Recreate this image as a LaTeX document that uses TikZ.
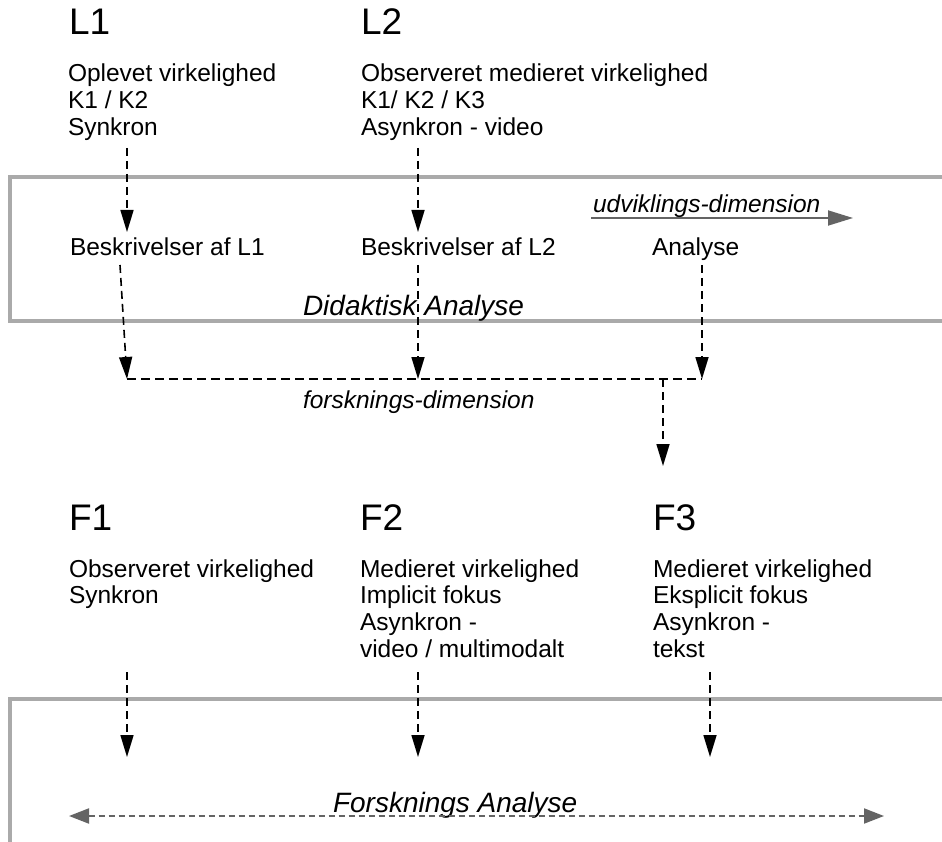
\documentclass[tikz,border=0pt]{standalone}
\usepackage{fontspec}
\setmainfont{Liberation Sans}
\usetikzlibrary{arrows.meta}
\definecolor{boxgray}{RGB}{170,170,170}
\definecolor{arrgray}{RGB}{100,100,100}
\begin{document}
\begin{tikzpicture}[x=1pt,y=-1pt,
  txt/.style={anchor=base west,inner sep=0pt,outer sep=0pt,align=left,font=\fontsize{24.5}{26.7}\selectfont},
  big/.style={anchor=base west,inner sep=0pt,outer sep=0pt,font=\fontsize{37}{40}\selectfont},
  itl/.style={anchor=base west,inner sep=0pt,outer sep=0pt,font=\fontsize{24.5}{26.7}\selectfont\itshape},
  itlbig/.style={anchor=base west,inner sep=0pt,outer sep=0pt,font=\fontsize{28}{30}\selectfont\itshape},
  dar/.style={black,line width=1.6pt,dash pattern=on 8pt off 5pt,-{Triangle[length=22pt,width=13pt]}},
  dln/.style={black,line width=1.6pt,dash pattern=on 9pt off 5pt},
  panel/.style={draw=boxgray,line width=3.5pt}
]
\useasboundingbox (0,0) rectangle (942,842);
\clip (0,0) rectangle (942,842);
\fill[white] (0,0) rectangle (942,842);

% panels
\draw[panel] (10,177) rectangle (970,321);
\draw[panel] (10,699) rectangle (970,900);

% L row (multi-line nodes: base = last line's baseline)
\node[big] (L1) at (69,35) {L1};
\node[txt] (l1t) at (68,135.4) {Oplevet virkelighed\\K1 / K2\\Synkron};
\node[big] (L2) at (361,35) {L2};
\node[txt] (l2t) at (361,135.4) {Observeret medieret virkelighed\\K1/ K2 / K3\\Asynkron - video};

\node[txt] (b1) at (70,256) {Beskrivelser af L1};
\node[txt] (b2) at (361,256) {Beskrivelser af L2};
\node[txt] (an) at (652,256) {Analyse};
\node[itl] (ud) at (593,213) {udviklings-dimension};
\node[itlbig] (da) at (303,316) {Didaktisk Analyse};
\node[itl] (fd) at (303,408) {forsknings-dimension};

\coordinate (a1s) at (127,148); \coordinate (a1e) at (127,232);
\coordinate (a2s) at (418,148); \coordinate (a2e) at (418,232);
\coordinate (b1s) at (120,265); \coordinate (j1) at (127,379);
\coordinate (b2s) at (418,265); \coordinate (j2) at (418,379);
\coordinate (ans) at (702,265); \coordinate (j3) at (702,379);
\coordinate (jd) at (663,379); \coordinate (jde) at (663,466);
\coordinate (us) at (591,218); \coordinate (ue) at (853,218);

\draw[dar] (a1s) -- (a1e);
\draw[dar] (a2s) -- (a2e);
\draw[dln] (j1) -- (j3);
\draw[dar] (b1s) -- (j1);
\draw[dar] (b2s) -- (j2);
\draw[dar] (ans) -- (j3);
\draw[dar] (jd) -- (jde);
\draw[arrgray,line width=1.8pt,-{Triangle[length=25pt,width=15pt]}] (us) -- (ue);

% F row
\node[big] (F1) at (69,530) {F1};
\node[txt] (f1t) at (69,603.7) {Observeret virkelighed\\Synkron};
\node[big] (F2) at (360,530) {F2};
\node[txt] (f2t) at (360,657.1) {Medieret virkelighed\\Implicit fokus\\Asynkron -\\video / multimodalt};
\node[big] (F3) at (653,530) {F3};
\node[txt] (f3t) at (653,657.1) {Medieret virkelighed\\Eksplicit fokus\\Asynkron -\\tekst};

\coordinate (c1s) at (127,672); \coordinate (c1e) at (127,757);
\coordinate (c2s) at (418,672); \coordinate (c2e) at (418,757);
\coordinate (c3s) at (710,672); \coordinate (c3e) at (710,757);
\draw[dar] (c1s) -- (c1e);
\draw[dar] (c2s) -- (c2e);
\draw[dar] (c3s) -- (c3e);

\node[itlbig] (fa) at (333,812) {Forsknings Analyse};
\coordinate (ga) at (69,816); \coordinate (gb) at (884,816);
\draw[arrgray,line width=2pt,dash pattern=on 6pt off 4pt,{Triangle[length=20pt,width=15pt]}-{Triangle[length=20pt,width=15pt]}] (ga) -- (gb);
\end{tikzpicture}
\end{document}
